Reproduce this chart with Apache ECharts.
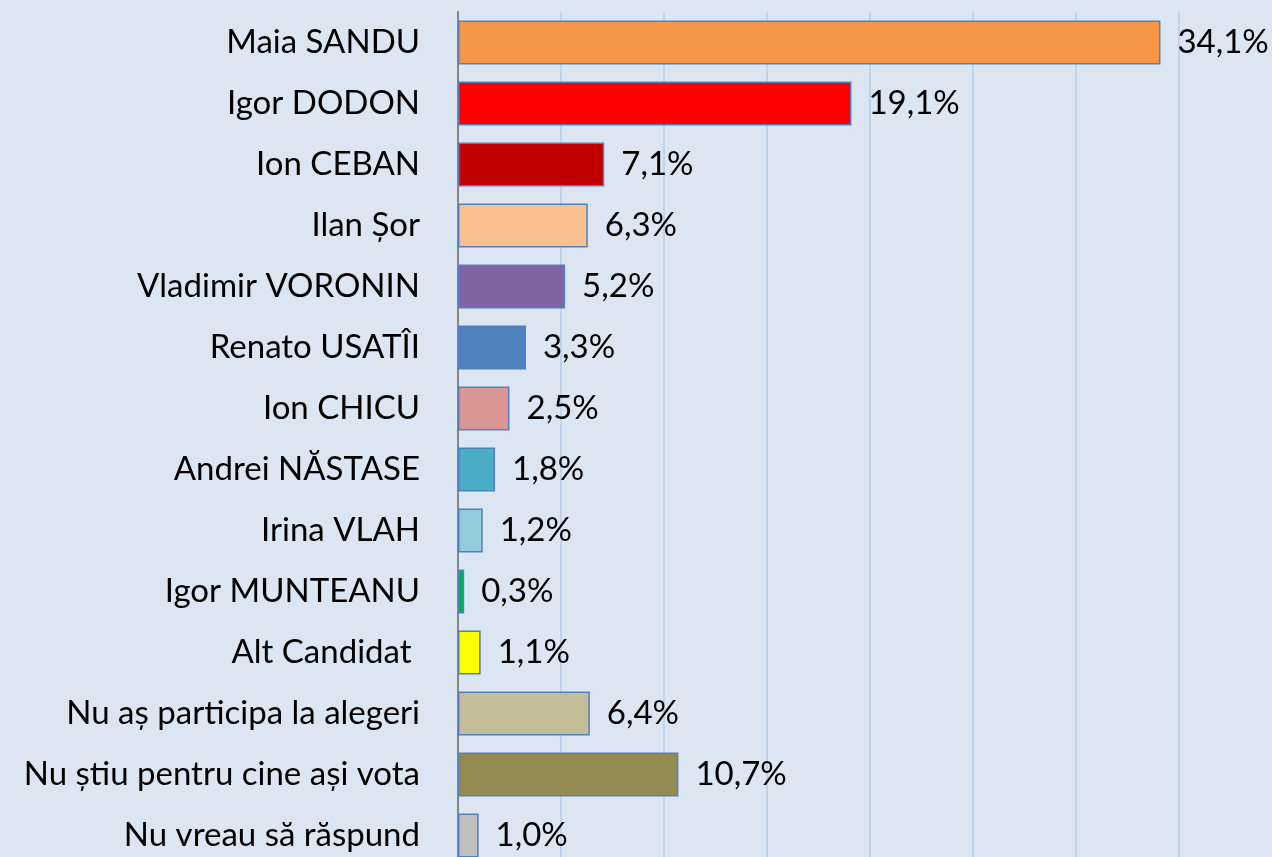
<!DOCTYPE html>
<html>
<head>
<meta charset="utf-8">
<script src="https://cdn.jsdelivr.net/npm/echarts@6/dist/echarts.min.js"></script>
<style>
  html, body { margin: 0; padding: 0; background: #dce6f2; overflow: hidden; }
  /* taller than the window: the plot runs past the bottom edge, as in the original */
  #main { width: 1272px; height: 870px; }
</style>
</head>
<body>
<div id="main"></div>
<script>
var categories = ['Maia SANDU', 'Igor DODON', 'Ion CEBAN', 'Ilan Șor', 'Vladimir VORONIN', 'Renato USATÎI',
    'Ion CHICU', 'Andrei NĂSTASE', 'Irina VLAH', 'Igor MUNTEANU', 'Alt Candidat ',
    'Nu aș participa la alegeri', 'Nu știu pentru cine ași vota', 'Nu vreau să răspund'];
var values = [34.1, 19.1, 7.1, 6.3, 5.2, 3.3, 2.5, 1.8, 1.2, 0.3, 1.1, 6.4, 10.7, 1.0];
var colors = ['#f79646', '#ff0000', '#c00000', '#fac090', '#8064a2', '#4f81bd', '#d99694',
    '#4bacc6', '#93cddd', '#00b050', '#ffff00', '#c4bd97', '#948a54', '#bfbfbf'];

var myChart = echarts.init(document.getElementById('main'));

var barData = [];
for (var i = 0; i < values.length; i++) {
    barData.push({ value: values[i], itemStyle: { color: colors[i] } });
}

var option = {
    backgroundColor: '#dce6f2',
    textStyle: { fontFamily: 'Lato' },
    grid: { left: 458, right: 93, top: 12, bottom: 4, containLabel: false },
    xAxis: {
        type: 'value',
        min: 0,
        max: 35,
        interval: 5,
        axisLabel: { show: false },
        axisLine: { show: false },
        axisTick: { show: false },
        splitLine: { lineStyle: { color: '#b9cde5', width: 1.5 } }
    },
    yAxis: {
        type: 'category',
        inverse: true,
        data: categories,
        axisLine: { lineStyle: { color: '#868686', width: 2 } },
        axisTick: { length: 12, lineStyle: { color: '#868686', width: 2 } },
        axisLabel: { color: '#000', fontSize: 33, margin: 38, fontFamily: 'Lato' }
    },
    series: [{
        type: 'bar',
        data: barData,
        barCategoryGap: '28%',
        itemStyle: { borderColor: '#4f81bd', borderWidth: 1.5 },
        label: {
            show: true,
            position: 'right',
            distance: 17,
            color: '#000',
            fontSize: 33,
            fontFamily: 'Lato',
            formatter: function (p) {
                return p.value.toFixed(1).replace('.', ',') + '%';
            }
        }
    }]
};

myChart.setOption(option);
</script>
</body>
</html>
